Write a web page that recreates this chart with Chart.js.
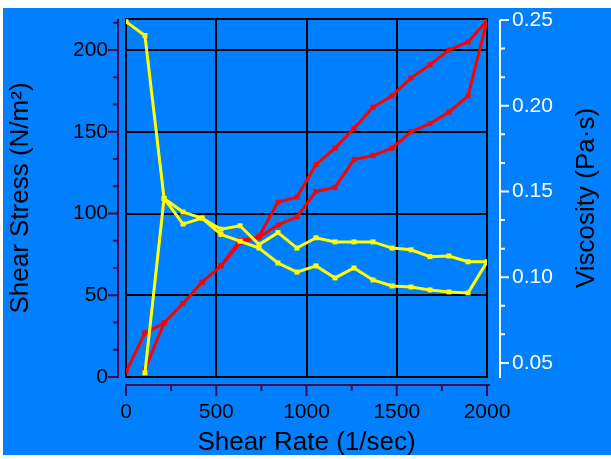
<!DOCTYPE html>
<html>
<head>
<meta charset="utf-8">
<script src="https://cdn.jsdelivr.net/npm/chart.js@4.4.1/dist/chart.umd.min.js"></script>
<style>
    body { margin: 0; background: #fff; }
    #wrap { position: absolute; left: 3px; top: 8px; width: 608px; height: 447px; }
</style>
</head>
<body>
<div id="wrap"><canvas id="rheo-chart" width="608" height="447"></canvas></div>
<script>
// ramp up, then back down
const shearRateUp = [0, 105, 211, 316, 421, 526, 632, 737, 842, 947, 1053, 1158, 1263, 1368, 1474, 1579, 1684, 1789, 1895, 2000];
const shearStressUp = [3, 27, 33, 45, 58, 68, 82, 86, 107, 110, 130, 140, 152, 165, 172, 183, 191, 200, 205, 218];
const viscosityUp = [0.249, 0.241, 0.146, 0.138, 0.1345, 0.128, 0.130, 0.119, 0.126, 0.117, 0.123, 0.1206, 0.1206, 0.1206, 0.117, 0.116, 0.112, 0.1124, 0.109, 0.109];

const shearRateDown = [1895, 1789, 1684, 1579, 1474, 1368, 1263, 1158, 1053, 947, 842, 737, 632, 526, 421, 316, 211, 105];
const shearStressDown = [172, 162, 155, 150, 140, 135.5, 133, 116, 113.5, 98, 93, 85.5, 83.5, 68, 58, 45, 33, 4.5];
const viscosityDown = [0.0908, 0.0914, 0.0926, 0.0943, 0.0949, 0.0984, 0.1054, 0.0996, 0.1066, 0.103, 0.1083, 0.117, 0.121, 0.125, 0.1345, 0.131, 0.146, 0.0442];

const rateTicks = [0, 500, 1000, 1500, 2000];
const stressTicks = [0, 50, 100, 150, 200];
const viscosityTicks = [0.05, 0.10, 0.15, 0.20, 0.25];

const plotBlue = 'rgb(0, 128, 255)';
const axisPurple = 'rgb(70, 10, 80)';
const fontFamily = "'Liberation Sans', Arial, sans-serif";

const toPoints = function(xs, ys){
    let res = [];
    for (let i = 0; i < xs.length; i++) {
        res.push({ x: xs[i], y: ys[i] });
    }
    return res;
}

let stressPoints = toPoints(shearRateUp.concat(shearRateDown), shearStressUp.concat(shearStressDown));
let viscosityPoints = toPoints(shearRateUp.concat(shearRateDown), viscosityUp.concat(viscosityDown));

// keep the plot box where the original has it
const noPadding = function(s){
    s.paddingTop = 0;
    s.paddingBottom = 0;
    s.paddingLeft = 0;
    s.paddingRight = 0;
}

const axisDecor = {
    id: 'axisDecor',
    beforeDraw: function(chart){
        let ctx = chart.ctx;
        ctx.save();
        ctx.fillStyle = plotBlue;
        ctx.fillRect(0, 0, chart.width, chart.height);
        ctx.restore();
    },
    beforeDatasetsDraw: function(chart){
        let ctx = chart.ctx;
        let a = chart.chartArea;
        ctx.save();
        ctx.strokeStyle = '#000';
        ctx.lineWidth = 2;
        ctx.strokeRect(a.left, a.top, a.right - a.left, a.bottom - a.top);
        ctx.restore();
    },
    afterDraw: function(chart){
        let ctx = chart.ctx;
        let a = chart.chartArea;
        let xs = chart.scales.x;
        let ys = chart.scales.stress;
        let vs = chart.scales.visc;

        ctx.save();
        ctx.lineWidth = 2;

        // left axis, set off from the plot
        let lx = a.left - 8;
        ctx.strokeStyle = axisPurple;
        ctx.beginPath();
        ctx.moveTo(lx, a.top);
        ctx.lineTo(lx, a.bottom + 1);
        for (let i = 0; i * 50 / 3 <= ys.max; i++) {
            let py = ys.getPixelForValue(i * 50 / 3);
            let len = i % 3 === 0 ? 10 : 5;
            ctx.moveTo(lx, py);
            ctx.lineTo(lx - len, py);
        }
        ctx.stroke();

        // bottom axis
        let by = a.bottom + 8;
        ctx.beginPath();
        ctx.moveTo(a.left - 1, by);
        ctx.lineTo(a.right + 3, by);
        for (let i = 0; i * 250 <= xs.max; i++) {
            let px = xs.getPixelForValue(i * 250);
            let len = i % 2 === 0 ? 11 : 6;
            ctx.moveTo(px, by);
            ctx.lineTo(px, by + len);
        }
        ctx.stroke();

        // right axis
        let rx = a.right + 13;
        ctx.strokeStyle = '#fff';
        ctx.beginPath();
        ctx.moveTo(rx, vs.getPixelForValue(0.25));
        ctx.lineTo(rx, a.bottom + 1);
        for (let i = -1; i <= 12; i++) {
            let v = 0.05 + i * 0.05 / 3;
            if (v < vs.min || v > vs.max) continue;
            let py = vs.getPixelForValue(v);
            let len = i % 3 === 0 ? 9 : 5;
            ctx.moveTo(rx, py);
            ctx.lineTo(rx + len, py);
        }
        ctx.stroke();

        ctx.translate(584, (a.top + a.bottom) / 2);
        ctx.rotate(-Math.PI / 2);
        ctx.fillStyle = '#000';
        ctx.font = '26px ' + fontFamily;
        ctx.textAlign = 'center';
        ctx.textBaseline = 'middle';
        ctx.fillText('Viscosity (Pa\u00b7s)', 0, 0);
        ctx.restore();
    }
};

let ctx = document.getElementById('rheo-chart');

let rheoChart = new Chart(ctx, {
    type: 'scatter',
    data: {
        datasets: [{
            label: 'Viscosity',
            data: viscosityPoints,
            yAxisID: 'visc',
            showLine: true,
            borderColor: 'rgb(255, 255, 0)',
            backgroundColor: 'rgb(255, 255, 0)',
            borderWidth: 3,
            pointStyle: 'rect',
            pointRadius: 3.5,
            pointBorderWidth: 0
        }, {
            label: 'Shear Stress',
            data: stressPoints,
            yAxisID: 'stress',
            showLine: true,
            borderColor: 'rgb(255, 0, 0)',
            backgroundColor: 'rgb(255, 0, 0)',
            borderWidth: 3,
            pointStyle: 'rect',
            pointRadius: 3.5,
            pointBorderWidth: 0
        }]
    },
    options: {
        responsive: false,
        animation: false,
        devicePixelRatio: 1,
        layout: { padding: { top: 11, left: 0, right: 0, bottom: 0 } },
        plugins: {
            legend: { display: false },
            tooltip: { enabled: false }
        },
        scales: {
            x: {
                type: 'linear',
                position: 'bottom',
                min: 0,
                max: 2000,
                afterBuildTicks: s => { s.ticks = rateTicks.map(v => ({ value: v })); },
                afterFit: s => { s.height = 78; noPadding(s); },
                border: { display: false },
                grid: { color: '#000', lineWidth: 2, drawTicks: false },
                ticks: {
                    color: '#000',
                    padding: 23,
                    maxRotation: 0,
                    autoSkip: false,
                    font: { family: fontFamily, size: 21 },
                    callback: v => String(v)
                },
                title: {
                    display: true,
                    text: 'Shear Rate (1/sec)',
                    color: '#000',
                    font: { family: fontFamily, size: 26, lineHeight: 1 },
                    padding: { top: 0, bottom: -1 }
                }
            },
            stress: {
                type: 'linear',
                position: 'left',
                min: 0,
                max: 219,
                afterBuildTicks: s => { s.ticks = stressTicks.map(v => ({ value: v })); },
                afterFit: s => { s.width = 123; noPadding(s); },
                border: { display: false },
                grid: { color: '#000', lineWidth: 2, drawTicks: false },
                ticks: {
                    color: '#000',
                    padding: 18,
                    font: { family: fontFamily, size: 21 }
                },
                title: {
                    display: true,
                    text: 'Shear Stress (N/m\u00b2)',
                    color: '#000',
                    font: { family: fontFamily, size: 26, lineHeight: 1 },
                    padding: { top: 5, bottom: 0 }
                }
            },
            visc: {
                type: 'linear',
                position: 'right',
                min: 0.0418,
                max: 0.2506,
                afterBuildTicks: s => { s.ticks = viscosityTicks.map(v => ({ value: v })); },
                afterFit: s => { s.width = 124; noPadding(s); },
                border: { display: false },
                grid: { display: false, drawTicks: false },
                ticks: {
                    color: '#fff',
                    padding: 25,
                    font: { family: fontFamily, size: 21 },
                    callback: v => v.toFixed(2)
                }
            }
        }
    },
    plugins: [axisDecor]
});
</script>
</body>
</html>
